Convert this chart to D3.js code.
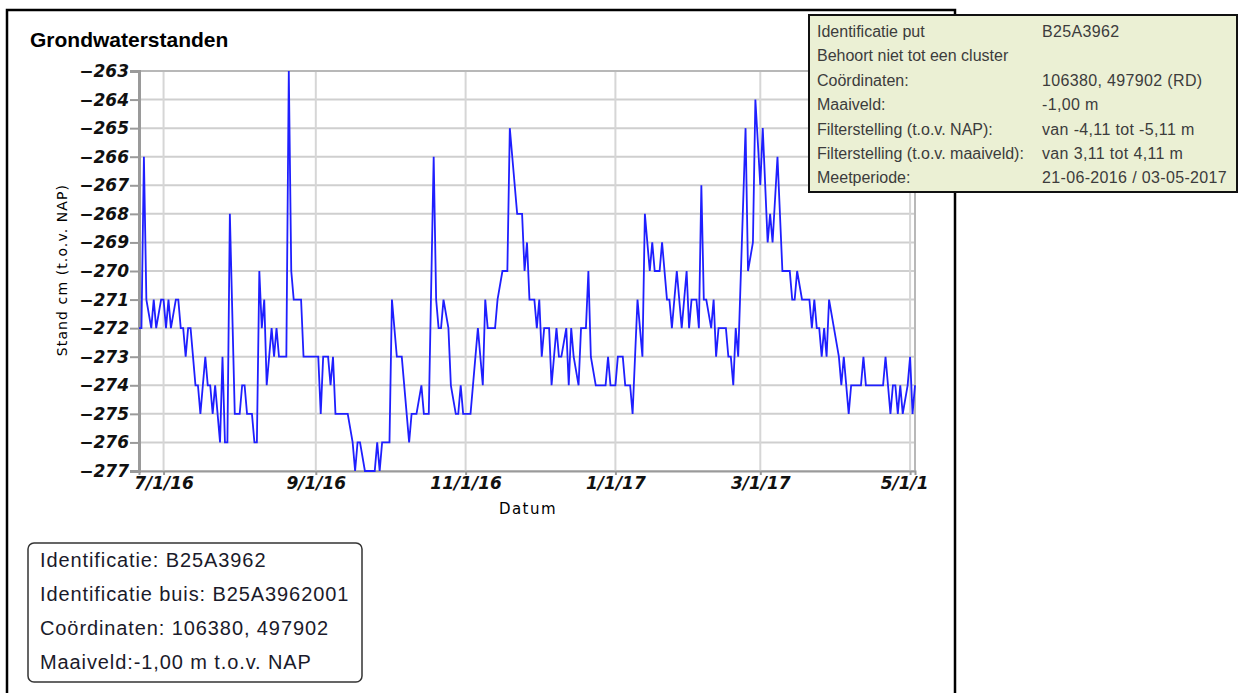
<!DOCTYPE html>
<html>
<head>
<meta charset="utf-8">
<script src="https://cdn.jsdelivr.net/npm/d3@7"></script>
<style>
body { margin: 0; background: #fff; }
</style>
</head>
<body>
<svg id="chart" width="1241" height="693"></svg>
<script>
var dates = [
  "2016-06-21","2016-06-22","2016-06-23","2016-06-24","2016-06-26","2016-06-27","2016-06-28","2016-06-30",
  "2016-07-01","2016-07-02","2016-07-03","2016-07-04","2016-07-06","2016-07-07","2016-07-08","2016-07-09",
  "2016-07-10","2016-07-11","2016-07-12","2016-07-14","2016-07-15","2016-07-16","2016-07-18","2016-07-19",
  "2016-07-20","2016-07-21","2016-07-22","2016-07-24","2016-07-25","2016-07-26","2016-07-27","2016-07-28",
  "2016-07-30","2016-08-01","2016-08-02","2016-08-03","2016-08-04","2016-08-06","2016-08-07","2016-08-08",
  "2016-08-09","2016-08-10","2016-08-11","2016-08-12","2016-08-14","2016-08-15","2016-08-16","2016-08-17",
  "2016-08-20","2016-08-21","2016-08-22","2016-08-23","2016-08-26","2016-08-27","2016-09-02","2016-09-03",
  "2016-09-04","2016-09-06","2016-09-07","2016-09-08","2016-09-09","2016-09-14","2016-09-16","2016-09-17",
  "2016-09-18","2016-09-19","2016-09-21","2016-09-25","2016-09-26","2016-09-27","2016-09-28","2016-10-01",
  "2016-10-02","2016-10-04","2016-10-06","2016-10-09","2016-10-10","2016-10-12","2016-10-14","2016-10-15",
  "2016-10-17","2016-10-19","2016-10-20","2016-10-21","2016-10-22","2016-10-23","2016-10-25","2016-10-26",
  "2016-10-28","2016-10-29","2016-10-30","2016-10-31","2016-11-03","2016-11-06","2016-11-08","2016-11-09",
  "2016-11-10","2016-11-13","2016-11-14","2016-11-16","2016-11-18","2016-11-19","2016-11-20","2016-11-22",
  "2016-11-24","2016-11-25","2016-11-26","2016-11-27","2016-11-29","2016-11-30","2016-12-01","2016-12-02",
  "2016-12-03","2016-12-05","2016-12-06","2016-12-07","2016-12-08","2016-12-09","2016-12-10","2016-12-12",
  "2016-12-13","2016-12-14","2016-12-15","2016-12-17","2016-12-18","2016-12-20","2016-12-21","2016-12-22",
  "2016-12-24","2016-12-28","2016-12-29","2016-12-30","2017-01-01","2017-01-02","2017-01-04","2017-01-05",
  "2017-01-07","2017-01-08","2017-01-10","2017-01-12","2017-01-13","2017-01-15","2017-01-16","2017-01-17",
  "2017-01-19","2017-01-20","2017-01-22","2017-01-23","2017-01-24","2017-01-26","2017-01-28","2017-01-30",
  "2017-01-31","2017-02-01","2017-02-03","2017-02-04","2017-02-05","2017-02-06","2017-02-07","2017-02-09",
  "2017-02-10","2017-02-11","2017-02-12","2017-02-15","2017-02-16","2017-02-17","2017-02-18","2017-02-19",
  "2017-02-20","2017-02-23","2017-02-24","2017-02-26","2017-02-27","2017-03-01","2017-03-02","2017-03-04",
  "2017-03-05","2017-03-06","2017-03-08","2017-03-10","2017-03-13","2017-03-14","2017-03-15","2017-03-16",
  "2017-03-18","2017-03-21","2017-03-22","2017-03-23","2017-03-24","2017-03-25","2017-03-26","2017-03-27",
  "2017-03-28","2017-03-29","2017-03-31","2017-04-02","2017-04-03","2017-04-04","2017-04-06","2017-04-07",
  "2017-04-11","2017-04-12","2017-04-13","2017-04-20","2017-04-21","2017-04-22","2017-04-23","2017-04-24",
  "2017-04-25","2017-04-26","2017-04-27","2017-04-28","2017-04-30","2017-05-01","2017-05-02","2017-05-03"
];
var levels = [
  -272,-272,-266,-271,-272,-271,-272,-271,
  -271,-272,-271,-272,-271,-271,-272,-272,
  -273,-272,-272,-274,-274,-275,-273,-274,
  -274,-275,-274,-276,-273,-276,-276,-268,
  -275,-275,-274,-274,-275,-275,-276,-276,
  -270,-272,-271,-274,-272,-273,-272,-273,
  -273,-263,-270,-271,-271,-273,-273,-275,
  -273,-273,-274,-273,-275,-275,-276,-277,
  -276,-276,-277,-277,-276,-277,-276,-276,
  -271,-273,-273,-276,-275,-275,-274,-275,
  -275,-266,-271,-272,-272,-271,-272,-274,
  -275,-275,-274,-275,-275,-272,-274,-271,
  -272,-272,-271,-270,-270,-265,-266,-268,
  -268,-270,-269,-271,-271,-272,-271,-273,
  -272,-272,-274,-273,-272,-273,-273,-272,
  -274,-272,-273,-274,-272,-272,-270,-273,
  -274,-274,-273,-274,-274,-273,-273,-274,
  -274,-275,-271,-273,-268,-270,-269,-270,
  -270,-269,-271,-271,-272,-270,-272,-270,
  -272,-271,-271,-272,-267,-271,-271,-272,
  -271,-273,-272,-272,-273,-273,-274,-272,
  -273,-265,-270,-269,-264,-267,-265,-269,
  -268,-269,-266,-270,-270,-271,-271,-270,
  -271,-271,-272,-271,-272,-272,-273,-272,
  -273,-271,-272,-273,-274,-273,-275,-274,
  -274,-273,-274,-274,-273,-274,-275,-274,
  -274,-275,-274,-275,-274,-273,-275,-274
];
var yTicks = [-263,-264,-265,-266,-267,-268,-269,-270,-271,-272,-273,-274,-275,-276,-277];
var xTicks = ["2016-07-01","2016-09-01","2016-11-01","2017-01-01","2017-03-01","2017-05-01"];
var tipLabels = ["Identificatie put", "Behoort niet tot een cluster", "Coördinaten:", "Maaiveld:",
  "Filterstelling (t.o.v. NAP):", "Filterstelling (t.o.v. maaiveld):", "Meetperiode:"];
var tipValues = ["B25A3962", "", "106380, 497902 (RD)", "-1,00 m", "van -4,11 tot -5,11 m",
  "van 3,11 tot 4,11 m", "21-06-2016 / 03-05-2017"];
var infoLines = ["Identificatie: B25A3962", "Identificatie buis: B25A3962001",
  "Coördinaten: 106380, 497902", "Maaiveld:-1,00 m t.o.v. NAP"];

var parse = d3.timeParse("%Y-%m-%d");
var data = dates.map(function(d, i) { return { date: parse(d), value: levels[i] }; });

var svg = d3.select("#chart");
var plotLeft = 139, plotRight = 915, plotTop = 71, plotBottom = 471;

var x = d3.scaleTime().domain([parse("2016-06-21"), parse("2017-05-03")]).range([plotLeft, plotRight]);
var y = d3.scaleLinear().domain([-277, -263]).range([plotBottom, plotTop]);

// paneel
svg.append("rect")
  .attr("x", 7).attr("y", 10).attr("width", 948).attr("height", 700)
  .attr("fill", "#fff").attr("stroke", "#000").attr("stroke-width", 2.5);

svg.append("text")
  .attr("x", 30).attr("y", 47)
  .style("font-family", "Liberation Sans, Arial, sans-serif")
  .style("font-size", "21px").style("font-weight", "bold")
  .text("Grondwaterstanden");

svg.append("clipPath").attr("id", "cut")
  .append("rect").attr("x", 0).attr("y", 0).attr("width", 930).attr("height", 693);

var g = svg.append("g").attr("clip-path", "url(#cut)");

// rasterlijnen
g.append("g").selectAll("line").data(yTicks).enter().append("line")
  .attr("x1", plotLeft).attr("x2", plotRight)
  .attr("y1", function(d) { return y(d); }).attr("y2", function(d) { return y(d); })
  .attr("stroke", "#cfcfcf").attr("stroke-width", 2);

g.append("g").selectAll("line").data(xTicks).enter().append("line")
  .attr("x1", function(d) { return x(parse(d)); }).attr("x2", function(d) { return x(parse(d)); })
  .attr("y1", plotTop).attr("y2", plotBottom)
  .attr("stroke", "#d6d6d6").attr("stroke-width", 2);

g.append("line").attr("x1", plotLeft).attr("x2", plotRight).attr("y1", plotTop).attr("y2", plotTop)
  .attr("stroke", "#b8b8b8").attr("stroke-width", 2);
g.append("line").attr("x1", plotRight).attr("x2", plotRight).attr("y1", plotTop).attr("y2", plotBottom)
  .attr("stroke", "#b8b8b8").attr("stroke-width", 2);

var tickFont = function(sel) {
  sel.selectAll("text")
    .style("font-family", "DejaVu Sans, sans-serif")
    .style("font-size", "17px").style("font-weight", "bold").style("font-style", "italic")
    .attr("fill", "#111");
};

var yAxis = g.append("g")
  .attr("transform", "translate(" + plotLeft + ",0)")
  .call(d3.axisLeft(y).tickValues(yTicks).tickSize(9).tickPadding(1));
yAxis.select(".domain").attr("stroke", "#9a9a9a").attr("stroke-width", 3);
yAxis.selectAll(".tick line").attr("stroke", "#9a9a9a").attr("stroke-width", 2);
yAxis.call(tickFont);

var xAxis = g.append("g")
  .attr("transform", "translate(0," + plotBottom + ")")
  .call(d3.axisBottom(x).tickValues(xTicks.map(parse)).tickFormat(d3.timeFormat("%-m/%-d/%y")).tickSize(4).tickPadding(2));
xAxis.select(".domain").attr("stroke", "#9a9a9a").attr("stroke-width", 2);
xAxis.selectAll(".tick line").attr("stroke", "#9a9a9a").attr("stroke-width", 2);
xAxis.call(tickFont);

// meetlijn
g.append("path").datum(data)
  .attr("fill", "none").attr("stroke", "#1f1fff").attr("stroke-width", 1.8)
  .attr("stroke-linejoin", "miter")
  .attr("d", d3.line().x(function(d) { return x(d.date); }).y(function(d) { return y(d.value); }));

g.append("text")
  .attr("x", 528).attr("y", 514).attr("text-anchor", "middle")
  .style("font-family", "DejaVu Sans, sans-serif").style("font-size", "15px")
  .style("letter-spacing", "1.5px")
  .text("Datum");

g.append("text")
  .attr("transform", "translate(67,270) rotate(-90)").attr("text-anchor", "middle")
  .style("font-family", "DejaVu Sans, sans-serif").style("font-size", "14px")
  .style("letter-spacing", "1.1px")
  .text("Stand cm (t.o.v. NAP)");

// info onder
svg.append("rect")
  .attr("x", 28).attr("y", 543).attr("width", 334).attr("height", 139).attr("rx", 6)
  .attr("fill", "#fff").attr("stroke", "#333").attr("stroke-width", 1.5);
svg.append("g").selectAll("text").data(infoLines).enter().append("text")
  .attr("x", 40).attr("y", function(d, i) { return 567 + i * 34; })
  .style("font-family", "Liberation Sans, Arial, sans-serif").style("font-size", "20px")
  .style("letter-spacing", "0.9px")
  .attr("fill", "#1a1a2a")
  .text(function(d) { return d; });

// tooltip
svg.append("rect")
  .attr("x", 809).attr("y", 15).attr("width", 428).attr("height", 177)
  .attr("fill", "#ebf0d4").attr("stroke", "#111").attr("stroke-width", 2);
var tip = svg.append("g")
  .style("font-family", "Liberation Sans, Arial, sans-serif").style("font-size", "16px")
  .attr("fill", "#3c3c3c");
tip.selectAll("text.l").data(tipLabels).enter().append("text").attr("class", "l")
  .attr("x", 817).attr("y", function(d, i) { return 37 + i * 24.4; })
  .text(function(d) { return d; });
tip.selectAll("text.v").data(tipValues).enter().append("text").attr("class", "v")
  .attr("x", 1042).attr("y", function(d, i) { return 37 + i * 24.4; })
  .style("letter-spacing", "0.35px")
  .text(function(d) { return d; });
</script>
</body>
</html>
